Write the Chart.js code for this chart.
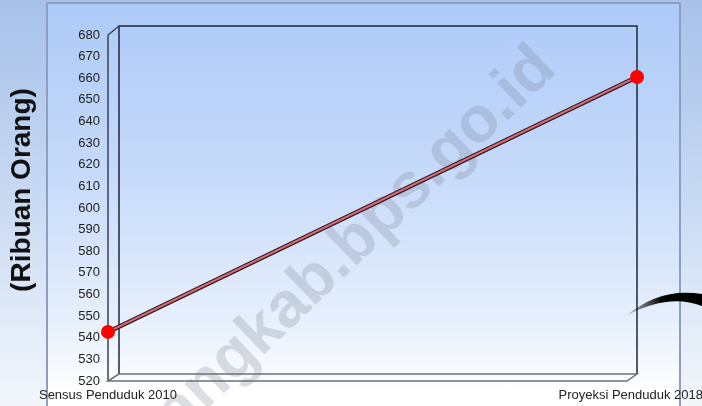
<!DOCTYPE html>
<html>
<head>
<meta charset="utf-8">
<title>Jumlah Penduduk</title>
<script src="https://cdn.jsdelivr.net/npm/chart.js@4.4.1/dist/chart.umd.min.js"></script>
<style>
    html, body {
        margin: 0;
        padding: 0;
        width: 702px;
        height: 406px;
        overflow: hidden;
        background: linear-gradient(to bottom, #a7c1e9 0%, #c9daf3 50%, #f3f7fc 100%);
    }
    .panel {
        position: absolute;
        left: 46px;
        top: 2px;
        width: 631px;
        height: 420px;
        border: 2px solid #8d9fbc;
        background: linear-gradient(to bottom, #adcaf8 0%, #c6dafa 40%, #e6effc 75%, #ffffff 92%);
    }
    #wrap {
        position: absolute;
        left: 0;
        top: 0;
        width: 702px;
        height: 406px;
    }
</style>
</head>
<body>
<div class="panel"></div>
<div id="wrap"><canvas id="chart" width="702" height="406"></canvas></div>
<script>
'use strict';

// data
var categories = ['Sensus Penduduk 2010', 'Proyeksi Penduduk 2018'];
var populasi = [542.7, 660.6];
var yTicks = [520, 530, 540, 550, 560, 570, 580, 590, 600, 610, 620, 630, 640, 650, 660, 670, 680];
var yTitle = '(Ribuan Orang)';
var watermark = 'bawangkab.bps.go.id';

var FONT = '"Liberation Sans", Arial, sans-serif';
var DEPTH_X = 11;
var DEPTH_Y = 8;

// 3D box behind the line (wall, floor, back face)
var framePlugin = {
    id: 'frame',
    beforeDatasetsDraw: function (chart) {
        var ctx = chart.ctx;
        var a = chart.chartArea;
        var l = a.left, r = a.right, t = a.top, b = a.bottom;
        var bl = l + DEPTH_X, bt = t - DEPTH_Y - 1, bb = b - DEPTH_Y + 1;
        ctx.save();
        ctx.lineWidth = 1.5;
        ctx.strokeStyle = '#1f2738';
        // back face
        ctx.beginPath();
        ctx.moveTo(bl, bb);
        ctx.lineTo(bl, bt);
        ctx.lineTo(r, bt);
        ctx.lineTo(r, bb);
        ctx.stroke();
        // left wall
        ctx.strokeStyle = '#3a4150';
        ctx.beginPath();
        ctx.moveTo(l, b);
        ctx.lineTo(l, t);
        ctx.lineTo(bl, bt);
        ctx.stroke();
        // floor
        ctx.strokeStyle = '#6c7078';
        ctx.beginPath();
        ctx.moveTo(bl, bb);
        ctx.lineTo(r, bb);
        ctx.lineTo(r - DEPTH_X + 1, b);
        ctx.lineTo(l, b);
        ctx.lineTo(bl, bb);
        ctx.stroke();
        ctx.restore();
    }
};

// watermark, axis title, category labels and the swoosh on the right
var decorPlugin = {
    id: 'decor',
    beforeDraw: function (chart) {
        var ctx = chart.ctx;
        ctx.save();
        ctx.translate(368, 230);
        ctx.rotate(-Math.PI / 4.1);
        ctx.font = 'bold 64px ' + FONT;
        ctx.fillStyle = 'rgba(120, 128, 145, 0.26)';
        ctx.textAlign = 'center';
        ctx.textBaseline = 'middle';
        ctx.fillText(watermark, -78, 0);
        ctx.restore();
    },
    afterDraw: function (chart) {
        var ctx = chart.ctx;
        var x = chart.scales.x;

        ctx.save();
        ctx.translate(22, 190);
        ctx.rotate(-Math.PI / 2);
        ctx.font = 'bold 28px ' + FONT;
        ctx.fillStyle = '#111111';
        ctx.textAlign = 'center';
        ctx.textBaseline = 'middle';
        ctx.fillText(yTitle, 0, 0);
        ctx.restore();

        ctx.save();
        ctx.font = '13px ' + FONT;
        ctx.fillStyle = '#222222';
        ctx.textBaseline = 'middle';
        ctx.textAlign = 'left';
        categories.forEach(function (label, i) {
            var w = ctx.measureText(label).width;
            var cx = x.getPixelForTick(i);
            var left = Math.min(Math.max(cx - w / 2, 0), chart.width - w + 1);
            ctx.fillText(label, left, 395);
        });
        ctx.restore();

        ctx.save();
        var g = ctx.createLinearGradient(624, 0, 662, 0);
        g.addColorStop(0, 'rgba(0,0,0,0.08)');
        g.addColorStop(1, 'rgba(0,0,0,1)');
        ctx.fillStyle = g;
        ctx.beginPath();
        ctx.moveTo(626, 316);
        ctx.quadraticCurveTo(660, 287, 702, 294);
        ctx.lineTo(702, 306);
        ctx.quadraticCurveTo(668, 293, 626, 316);
        ctx.fill();
        ctx.restore();
    }
};

var ctx = document.getElementById('chart').getContext('2d');

new Chart(ctx, {
    type: 'line',
    data: {
        labels: categories,
        datasets: [{
            label: 'Penduduk',
            data: populasi,
            borderColor: '#d8707e',
            borderWidth: 2,
            pointRadius: 7,
            pointHoverRadius: 7,
            pointBackgroundColor: '#ff0000',
            pointBorderColor: '#ff0000',
            pointBorderWidth: 0,
            tension: 0,
            order: 0
        }, {
            label: 'outline',
            data: populasi,
            borderColor: '#3b1c22',
            borderWidth: 4.5,
            pointRadius: 0,
            tension: 0,
            order: 1
        }]
    },
    options: {
        responsive: false,
        animation: false,
        events: [],
        layout: {
            padding: {left: 0, right: 65, top: 35, bottom: 0}
        },
        plugins: {
            legend: {display: false},
            tooltip: {enabled: false}
        },
        scales: {
            x: {
                type: 'category',
                offset: false,
                grid: {display: false},
                border: {display: false},
                ticks: {display: false},
                afterFit: function (scale) {
                    scale.height = 25;
                }
            },
            y: {
                min: yTicks[0],
                max: yTicks[yTicks.length - 1],
                grid: {display: false, drawTicks: false},
                border: {display: false},
                afterBuildTicks: function (scale) {
                    scale.ticks = yTicks.map(function (v) { return {value: v}; });
                },
                afterFit: function (scale) {
                    scale.width = 108;
                },
                ticks: {
                    padding: 8,
                    color: '#222222',
                    font: {family: FONT, size: 13}
                }
            }
        }
    },
    plugins: [framePlugin, decorPlugin]
});
</script>
</body>
</html>
